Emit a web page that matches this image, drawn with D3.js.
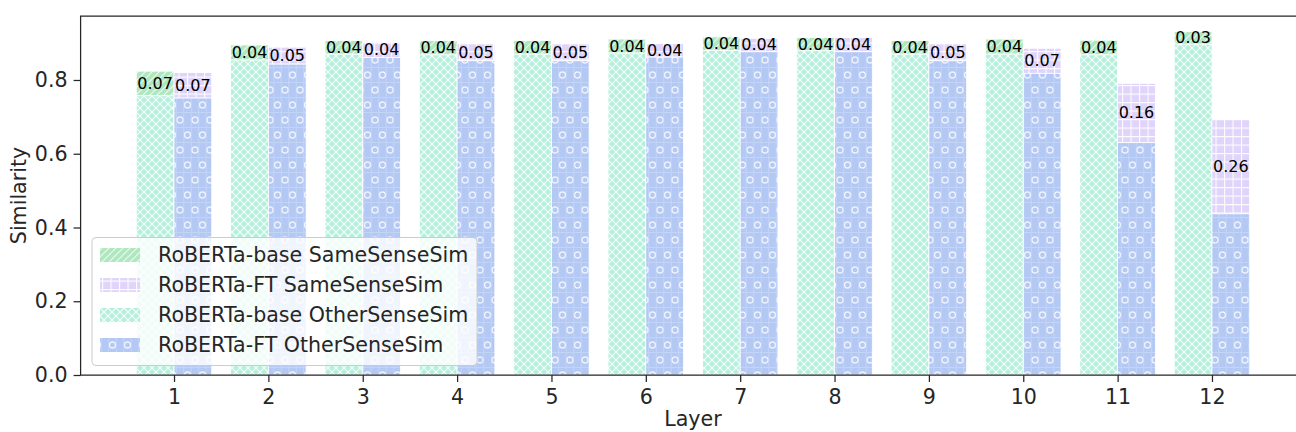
<!DOCTYPE html>
<html><head><meta charset="utf-8">
<script src="https://cdn.jsdelivr.net/npm/d3@7"></script>
<style>
body{margin:0;background:#fff}
svg{display:block;font-family:"DejaVu Sans",sans-serif}
</style>
</head><body>
<svg id="c" width="1296" height="432"></svg>
<script>
const layers = [1,2,3,4,5,6,7,8,9,10,11,12];
const baseSame  = [0.824,0.895,0.907,0.907,0.907,0.911,0.917,0.915,0.907,0.911,0.908,0.931];
const baseOther = [0.757,0.854,0.870,0.868,0.870,0.873,0.880,0.879,0.870,0.870,0.868,0.897];
const ftSame    = [0.820,0.889,0.902,0.898,0.898,0.899,0.913,0.915,0.898,0.886,0.791,0.693];
const ftOther   = [0.751,0.843,0.861,0.852,0.852,0.862,0.877,0.877,0.852,0.818,0.630,0.437];
const yTicks = [0.0,0.2,0.4,0.6,0.8];
const legendNames = ["RoBERTa-base SameSenseSim","RoBERTa-FT SameSenseSim","RoBERTa-base OtherSenseSim","RoBERTa-FT OtherSenseSim"];

const svg = d3.select("#c");
const L = 80.6, R = 1305.4, T = 16, B = 375;
const x = d3.scaleLinear().domain([0.01,12.99]).range([L,R]);
const y = d3.scaleLinear().domain([0,0.9735]).range([B,T]);
const bw = 0.4;
const FS = 20.6;

// patterns
const defs = svg.append("defs");
function pat(id,w,h,bg,draw){
  const p = defs.append("pattern").attr("id",id).attr("patternUnits","userSpaceOnUse")
    .attr("width",w).attr("height",h);
  p.append("rect").attr("width",w).attr("height",h).attr("fill",bg);
  draw(p);
}
pat("pGreen",7,7,"#afe8bf",p=>{
  p.append("path").attr("d","M-1,8 L8,-1 M-4,4 L4,-4 M3,11 L11,3").attr("stroke","#fff").attr("stroke-width",1.1).attr("stroke-opacity",0.75);
});
pat("pMint",8,8,"#b5f0dc",p=>{
  p.append("path").attr("d","M0,0 L8,8 M8,0 L0,8").attr("stroke","#fff").attr("stroke-width",1.1).attr("stroke-opacity",0.9);
});
pat("pLav",8.5,8.5,"#e0d4fb",p=>{
  p.append("path").attr("d","M0,0.5 L8.5,0.5 M0.5,0 L0.5,8.5").attr("stroke","#fff").attr("stroke-width",1.2).attr("stroke-opacity",0.9);
});
pat("pBlue",15,30,"#b4c8f4",p=>{
  p.append("path").attr("d","M3.75,0 L3.75,30 M11.25,0 L11.25,30 M0,7.5 L15,7.5 M0,22.5 L15,22.5")
    .attr("stroke","#c3d4f7").attr("stroke-width",1);
  [[0,0],[15,0],[0,30],[15,30],[7.5,15]].forEach(([cx,cy])=>{
    p.append("circle").attr("cx",cx).attr("cy",cy).attr("r",3).attr("fill","none").attr("stroke","#eef2fd").attr("stroke-width",1.3);
  });
});

const g = svg.append("g");
function drawBars(off, other, same, fillOther, fillSame){
  g.selectAll(null).data(layers).enter().append("rect")
    .attr("x",(d)=>x(d+off)).attr("width",x(bw)-x(0))
    .attr("y",(d,i)=>y(same[i])).attr("height",(d,i)=>y(other[i])-y(same[i]))
    .attr("fill",fillSame).attr("stroke","#fff").attr("stroke-width",0.8);
  g.selectAll(null).data(layers).enter().append("rect")
    .attr("x",(d)=>x(d+off)).attr("width",x(bw)-x(0))
    .attr("y",(d,i)=>y(other[i])).attr("height",(d,i)=>y(0)-y(other[i]))
    .attr("fill",fillOther).attr("stroke","#fff").attr("stroke-width",0.8);
}
drawBars(-bw, baseOther, baseSame, "url(#pMint)", "url(#pGreen)");
drawBars(0, ftOther, ftSame, "url(#pBlue)", "url(#pLav)");

function drawLabels(off, other, same){
  g.selectAll(null).data(layers).enter().append("text")
    .attr("x",d=>x(d+off+bw/2)).attr("y",(d,i)=>y((same[i]+other[i])/2))
    .attr("text-anchor","middle").attr("dominant-baseline","central")
    .attr("font-size",16).attr("fill","#000")
    .text((d,i)=>d3.format(".2f")(same[i]-other[i]));
}
drawLabels(-bw, baseOther, baseSame);
drawLabels(0, ftOther, ftSame);

const ax = svg.append("g").attr("transform",`translate(0,${B})`)
  .call(d3.axisBottom(x).tickValues(layers).tickSize(7).tickPadding(7).tickFormat(d3.format("d")));
const ay = svg.append("g").attr("transform",`translate(${L},0)`)
  .call(d3.axisLeft(y).tickValues(yTicks).tickSize(7).tickPadding(6).tickFormat(d3.format(".1f")));
[ax,ay].forEach(a=>{
  a.select(".domain").remove();
  a.selectAll("line").attr("stroke","#262626").attr("stroke-width",1.25);
  a.selectAll("text").attr("font-size",FS).attr("fill","#262626").attr("font-family","DejaVu Sans");
});
const sp = svg.append("g").attr("stroke","#262626").attr("stroke-width",1.25).attr("fill","none");
sp.append("path").attr("d",`M${L},${T} L${L},${B} L${R},${B} L${R},${T} Z`);

svg.append("text").attr("x",(L+R)/2).attr("y",426).attr("text-anchor","middle")
  .attr("font-size",FS).attr("fill","#262626").text("Layer");
svg.append("text").attr("transform",`translate(19,${(T+B)/2}) rotate(-90)`).attr("text-anchor","middle")
  .attr("dominant-baseline","central").attr("font-size",FS).attr("fill","#262626").text("Similarity");

const lg = svg.append("g");
lg.append("rect").attr("x",92).attr("y",237.5).attr("width",385).attr("height",128).attr("rx",4)
  .attr("fill","#fff").attr("fill-opacity",0.8).attr("stroke","#cccccc").attr("stroke-width",1);
const fills = ["url(#pGreen)","url(#pLav)","url(#pMint)","url(#pBlue)"];
legendNames.forEach((n,i)=>{
  const cy = 255 + i*30;
  lg.append("rect").attr("x",100).attr("y",cy-7).attr("width",40).attr("height",14).attr("fill",fills[i]);
  lg.append("text").attr("x",158).attr("y",cy).attr("dominant-baseline","central")
    .attr("font-size",FS).attr("fill","#262626").text(n);
});
</script>
</body></html>
